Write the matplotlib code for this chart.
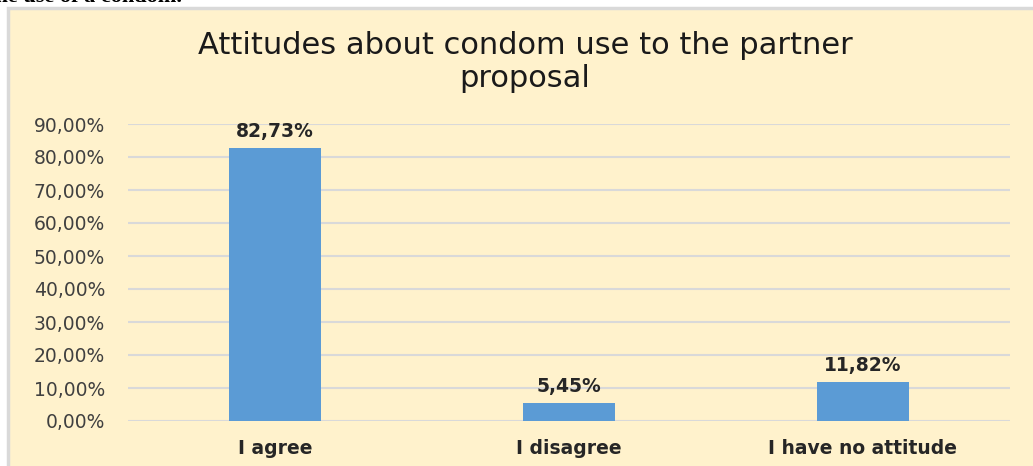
import matplotlib.pyplot as plt
from matplotlib.patches import Rectangle

categories = ["I agree", "I disagree", "I have no attitude"]
values = [82.73, 5.45, 11.82]
yticks = [0, 10, 20, 30, 40, 50, 60, 70, 80, 90]
title = "Attitudes about condom use to the partner\nproposal"

W, H = 1033, 466
fig = plt.figure(figsize=(W / 100, H / 100), dpi=100)
fig.patch.set_facecolor("white")

# chart area panel with light grey border
panel = Rectangle((8 / W, -0.05), 1.1, (H - 8) / H + 0.05, transform=fig.transFigure,
                  facecolor="#FFF2CC", edgecolor="#D9D9D9", linewidth=2.5, zorder=-10)
fig.patches.append(panel)

# tail of the preceding document line
fig.text(-12 / W, (H - 2) / H, "the use of a condom.", fontsize=16, fontweight="bold",
         family="Liberation Serif", va="baseline", ha="left", color="black")

FONT = "DejaVu Sans"
ax = fig.add_axes([128 / W, (H - 421) / H, (1010 - 128) / W, (421 - 124) / H])
ax.set_facecolor("none")
x = range(len(categories))
bars = ax.bar(x, values, width=0.31, color="#5B9BD5", zorder=3)
ax.set_xlim(-0.5, 2.5)
ax.set_ylim(0, 90)
ax.set_yticks(yticks)
ax.set_yticklabels([f"{v:.2f}%".replace(".", ",") for v in yticks],
                   fontsize=13.5, color="#404040", family=FONT)
ax.set_xticks(list(x))
ax.set_xticklabels(categories, fontsize=13.5, fontweight="bold", color="#262626",
                   family=FONT)
ax.tick_params(axis="both", length=0)
ax.tick_params(axis="y", pad=16.5)
ax.tick_params(axis="x", pad=13)
ax.grid(axis="y", color="#D9D9D9", linewidth=1.5, zorder=0)
for s in ax.spines.values():
    s.set_visible(False)

for b, v in zip(bars, values):
    ax.annotate(f"{v:.2f}%".replace(".", ","), (b.get_x() + b.get_width() / 2, v),
                xytext=(0, 5), textcoords="offset points", ha="center", va="bottom",
                fontsize=13.5, fontweight="bold", color="#262626", family=FONT)

fig.text(525 / W, (H - 62) / H, title, ha="center", va="center", fontsize=22,
         color="#1a1a1a", family=FONT, linespacing=1.2)

fig.savefig("out.png", dpi=100)
